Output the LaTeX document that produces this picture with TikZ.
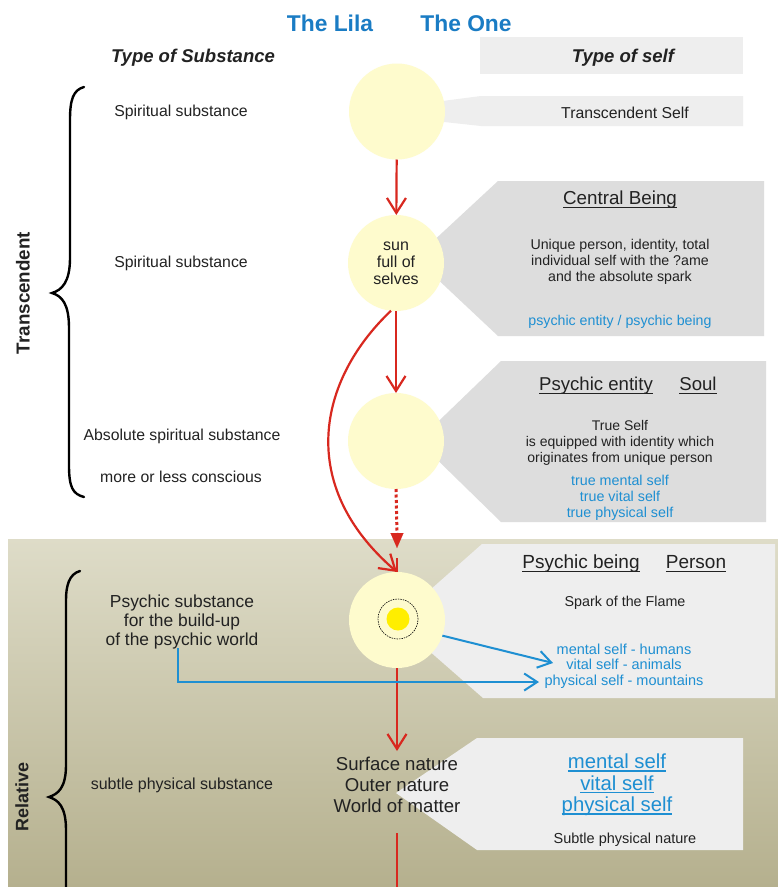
\documentclass[tikz,border=0pt]{standalone}
\usepackage{fontspec}
\setmainfont{Liberation Sans}
\usetikzlibrary{arrows.meta}
\definecolor{redc}{HTML}{D8281F}
\definecolor{bluet}{HTML}{1A7CC4}
\definecolor{bluec}{HTML}{1E8FD2}
\definecolor{circf}{HTML}{FEFBCD}
\definecolor{grayl}{HTML}{EEEEEE}
\definecolor{grayd}{HTML}{DDDDDD}
\definecolor{bgtop}{HTML}{DEDCC8}
\definecolor{bgbot}{HTML}{B5B08E}
\definecolor{txt}{HTML}{222222}
\definecolor{sparky}{HTML}{FFEE00}
\newcommand\ulx[2][1.1pt]{\setbox0\hbox{#2}\rlap{\rule[-3pt]{\wd0}{#1}}\box0}
\begin{document}
\begin{tikzpicture}[x=1pt,y=-1pt,
  every node/.style={text=txt, inner sep=0pt, outer sep=0pt},
  tx/.style={yshift=-2pt},
  title/.style={text=bluet, font=\fontsize{22.8}{26}\selectfont\bfseries},
  colhead/.style={tx, font=\fontsize{18.5}{21}\selectfont\bfseries\itshape},
  lbl/.style={tx, font=\fontsize{15.8}{18}\selectfont},
  small/.style={tx, align=center, font=\fontsize{14.2}{15.8}\selectfont},
  sblue/.style={small, text=bluec},
  hd/.style={tx, text height=13.6pt, text depth=4pt, font=\fontsize{18.8}{21}\selectfont},
  side/.style={rotate=90, font=\fontsize{18.8}{21}\selectfont\bfseries},
  circ/.style={circle, fill=circf, minimum size=96pt},
  redarrow/.style={draw=redc, line width=2.2pt, -{Straight Barb[length=15pt,width=19pt,line width=2.2pt]}},
  redline/.style={draw=redc, line width=2.2pt},
  bluearrow/.style={draw=bluec, line width=2pt, -{Straight Barb[length=13pt,width=17pt,line width=2pt]}},
  brace/.style={draw=black, line width=2.4pt, line cap=round}
]
\useasboundingbox (0,0) rectangle (778,887);
\fill[white] (0,0) rectangle (778,887);
\shade[top color=bgtop, bottom color=bgbot] (8,539) rectangle (778,887);

% callout boxes
\fill[grayl] (480,37) rectangle (743,74);
\fill[grayl] (435,102) -- (481,96) -- (743,96) -- (743,126) -- (481,126) -- (435,121) -- cycle;
\fill[grayd] (498,181) -- (764,181) -- (764,336) -- (498,336) -- (415,258) -- cycle;
\fill[grayd] (501,361) -- (766,361) -- (766,522) -- (501,522) -- (418,441) -- cycle;
\fill[grayl] (482,544) -- (775,544) -- (775,698) -- (483,698) -- (395,621) -- cycle;
\fill[grayl] (477,738) -- (743,738) -- (743,850) -- (477,850) -- (396,793) -- cycle;

% titles
\node[title] (lila) at (330,23) {The Lila};
\node[title] (one) at (466,23) {The One};
\node[colhead] (tsub) at (193,56) {Type of Substance};
\node[colhead] (tself) at (623,56) {Type of self};

% circles
\node[circ] (c1) at (397,111.5) {};
\node[circ, align=center, font=\fontsize{16}{17}\selectfont] (c2) at (396,263) {sun\\full of\\selves};
\node[circ] (c3) at (396,441) {};
\node[circ] (c4) at (397,620) {};
\node[circle, fill=sparky, minimum size=23pt] (spark) at (398,619) {};
\node[circle, draw=black, dash pattern=on 1.5pt off 1pt, line width=0.6pt, minimum size=40pt] (ring) at (398,619) {};

% left column
\node[lbl] (s1) at (181,110) {Spiritual substance};
\node[lbl] (s2) at (181,261) {Spiritual substance};
\node[lbl] (s3) at (182,434) {Absolute spiritual substance};
\node[lbl] (s4) at (181,475) {more or less conscious};
\node[tx, align=center, font=\fontsize{17.4}{18.6}\selectfont] (s5) at (182,620) {Psychic substance\\for the build-up\\of the psychic world};
\node[tx, font=\fontsize{16}{18}\selectfont] (s6) at (182,783) {subtle physical substance};

% side labels
\node[side] (trans) at (23,293) {Transcendent};
\node[side, font=\fontsize{18}{20}\selectfont\bfseries] (rel) at (22,797) {Relative};

% braces
\draw[brace] (84,87) .. controls (73,90) and (70,100) .. (70,120) -- (70,258)
  .. controls (70,282) and (62,290) .. (52,293)
  .. controls (62,296) and (69,304) .. (69,328) -- (69,465)
  .. controls (69,488) and (73,494) .. (84,497);
\draw[brace] (80,571) .. controls (69,574) and (66,586) .. (66,600) -- (66,765)
  .. controls (66,788) and (58,794) .. (49,797)
  .. controls (58,800) and (66,806) .. (66,830) -- (66,900);

% right column texts
\node[lbl] (tsf) at (625,111) {Transcendent Self};
\node[hd] (cb) at (620,198) {\ulx{Central Being}};
\node[small] (cbt) at (620,260) {Unique person, identity, total\\individual self with the ?ame\\and the absolute spark};
\node[sblue] (cbb) at (620,320) {psychic entity / psychic being};
\node[hd, font=\fontsize{18.6}{21}\selectfont] (pe) at (596,384) {\ulx{Psychic entity}};
\node[hd, font=\fontsize{18.6}{21}\selectfont] (soul) at (698,384) {\ulx{Soul}};
\node[small, font=\fontsize{14}{16}\selectfont] (pet) at (620,441) {True Self\\is equipped with identity which\\originates from unique person};
\node[sblue, font=\fontsize{14.3}{16}\selectfont] (peb) at (620,496) {true mental self\\true vital self\\true physical self};
\node[hd, font=\fontsize{19}{21}\selectfont] (pb) at (581,562) {\ulx{Psychic being}};
\node[hd, font=\fontsize{19}{21}\selectfont] (pers) at (696,562) {\ulx{Person}};
\node[small, font=\fontsize{14.3}{16}\selectfont] (spf) at (625,601) {Spark of the Flame};
\node[sblue, font=\fontsize{14.5}{15.6}\selectfont] (pbb) at (624,664) {mental self - humans\\vital self - animals\\physical self - mountains};
\node[yshift=-1pt, align=center, font=\fontsize{18.6}{21}\selectfont] (sn) at (397,784) {Surface nature\\Outer nature\\World of matter};
\node[tx, align=center, text=bluec, font=\fontsize{20.3}{21.5}\selectfont] (ms) at (617,783) {\ulx[1.3pt]{mental self}\\\ulx[1.3pt]{vital self}\\\ulx[1.3pt]{physical self}};
\node[small, font=\fontsize{14.5}{16}\selectfont] (spn) at (625,838) {Subtle physical nature};

% coordinates
\coordinate (dtip) at (397,548);
\coordinate (stail) at (397,558);
\coordinate (snt) at (397,751);
\coordinate (snb) at (397,833);
\coordinate (bottom) at (397,887);
\coordinate (b1) at (553,663);
\coordinate (b2s) at (178,648);
\coordinate (b2c) at (178,682);
\coordinate (b2e) at (539,682);

% red connectors
\draw[redarrow] (c1) -- (c2);
\draw[redarrow] (c2) -- (c3);
\draw[draw=redc, line width=3pt, dash pattern=on 3pt off 2.5pt] (c3.south) -- (397,534);
\draw[draw=redc, line width=0.1pt, fill=redc, -{Triangle[length=15pt,width=13pt]}] (397,533) -- (dtip);
\draw[redline] (stail) -- (c4.north);
\draw[redarrow] (c2.264) .. controls (318,380) and (296,485) .. (c4.north);
\draw[redarrow] (c4.south) -- (snt);
\draw[redline] (snb) -- (bottom);

% blue connectors
\draw[bluearrow] (c4.-19) -- (b1);
\draw[bluearrow, line join=miter] (b2s) -- (b2c) -- (b2e);
\end{tikzpicture}
\end{document}
